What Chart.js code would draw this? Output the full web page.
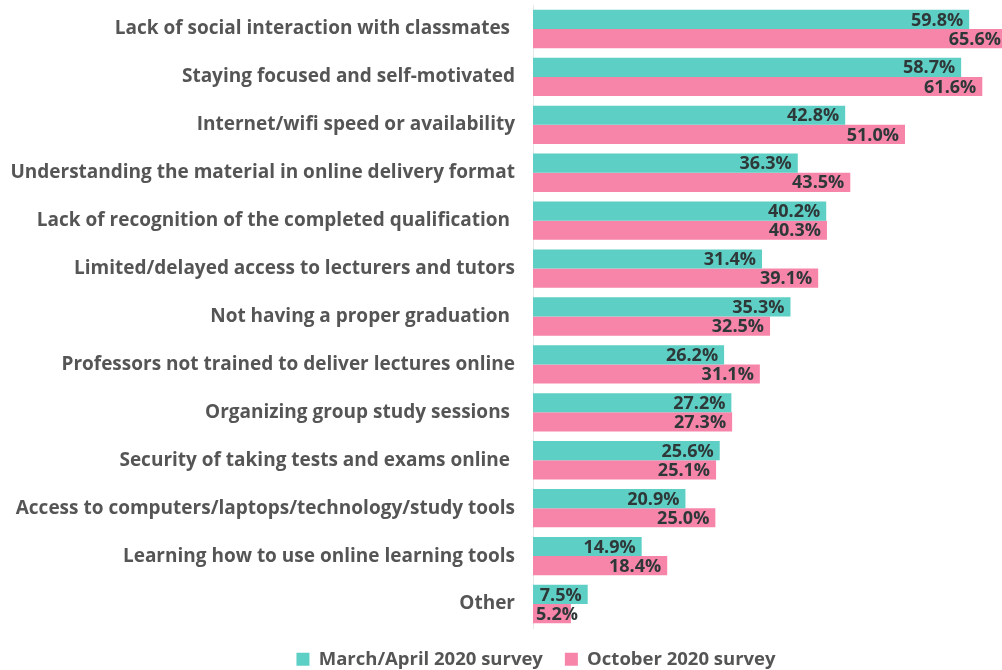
<!DOCTYPE html>
<html>
<head>
<meta charset="utf-8">
<script src="https://cdn.jsdelivr.net/npm/chart.js@4/dist/chart.umd.min.js"></script>
<style>
  html, body { margin: 0; padding: 0; background: #fff; }
  #wrap { width: 1002px; height: 670px; }
</style>
</head>
<body>
<div id="wrap"><canvas id="myChart"></canvas></div>
<script>
  // trailing spaces kept as in the source labels
  const labels = [
    'Lack of social interaction with classmates ',
    'Staying focused and self-motivated',
    'Internet/wifi speed or availability',
    'Understanding the material in online delivery format',
    'Lack of recognition of the completed qualification ',
    'Limited/delayed access to lecturers and tutors',
    'Not having a proper graduation ',
    'Professors not trained to deliver lectures online',
    'Organizing group study sessions ',
    'Security of taking tests and exams online ',
    'Access to computers/laptops/technology/study tools',
    'Learning how to use online learning tools',
    'Other',
  ];

  const marchApril = [59.8, 58.7, 42.8, 36.3, 40.2, 31.4, 35.3, 26.2, 27.2, 25.6, 20.9, 14.9, 7.5];
  const october = [65.6, 61.6, 51.0, 43.5, 40.3, 39.1, 32.5, 31.1, 27.3, 25.1, 25.0, 18.4, 5.2];

  // value labels near the end of each bar
  const valueLabels = {
    id: 'valueLabels',
    afterDatasetsDraw(chart) {
      const ctx = chart.ctx;
      const area = chart.chartArea;
      ctx.save();
      ctx.font = 'bold 18px "Open Sans"';
      ctx.fillStyle = '#2f3838';
      ctx.textAlign = 'right';
      ctx.textBaseline = 'middle';
      chart.data.datasets.forEach((ds, i) => {
        chart.getDatasetMeta(i).data.forEach((bar, j) => {
          const txt = ds.data[j].toFixed(1) + '%';
          const w = ctx.measureText(txt).width;
          let x = bar.x > area.right ? area.right - 1 : bar.x - 6;
          x = Math.max(x, bar.base + 3 + w);
          ctx.fillText(txt, x, bar.y + 1);
        });
      });
      ctx.restore();
    }
  };

  // legend: fixed height, shifted to sit under the bars
  const legendTweak = {
    id: 'legendTweak',
    beforeLayout(chart) {
      const lg = chart.legend;
      if (lg && !lg._wrapped) {
        const fit = lg.fit.bind(lg);
        lg.fit = function () { fit(); this.height = 42; };
        lg._wrapped = true;
      }
    },
    afterLayout(chart) {
      chart.legend.left += 35;
      chart.legend.right += 35;
    }
  };

  const data = {
    labels: labels,
    datasets: [{
      label: 'March/April 2020 survey',
      backgroundColor: '#5ecfc5',
      data: marchApril,
    },
    {
      label: 'October 2020 survey',
      backgroundColor: '#f784a9',
      data: october,
    }]
  };

  const config = {
    type: 'bar',
    data: data,
    plugins: [valueLabels, legendTweak],
    options: {
      indexAxis: 'y',
      responsive: true,
      maintainAspectRatio: false,
      animation: false,
      layout: { padding: { top: 5, left: 0, right: 0, bottom: 0 } },
      datasets: {
        bar: { categoryPercentage: 0.8, barPercentage: 1.0 }
      },
      scales: {
        x: {
          display: false,
          min: 0,
          max: 64.3,
        },
        y: {
          grid: { display: false, drawTicks: false },
          border: { display: true, color: '#e8e8e8' },
          afterFit(scale) {
            scale.width = 533;
            scale.paddingTop = 0;
            scale.paddingBottom = 0;
          },
          ticks: {
            color: '#555',
            padding: 18,
            font: { family: 'Open Sans', size: 19, weight: 'bold' },
          }
        }
      },
      plugins: {
        legend: {
          position: 'bottom',
          labels: {
            color: '#555',
            boxWidth: 13,
            boxHeight: 13,
            padding: 22,
            font: { family: 'Open Sans', size: 18.5, weight: 'bold' },
          }
        },
        tooltip: { enabled: false }
      }
    }
  };

  const myChart = new Chart(
    document.getElementById('myChart'),
    config
  );
</script>
</body>
</html>
